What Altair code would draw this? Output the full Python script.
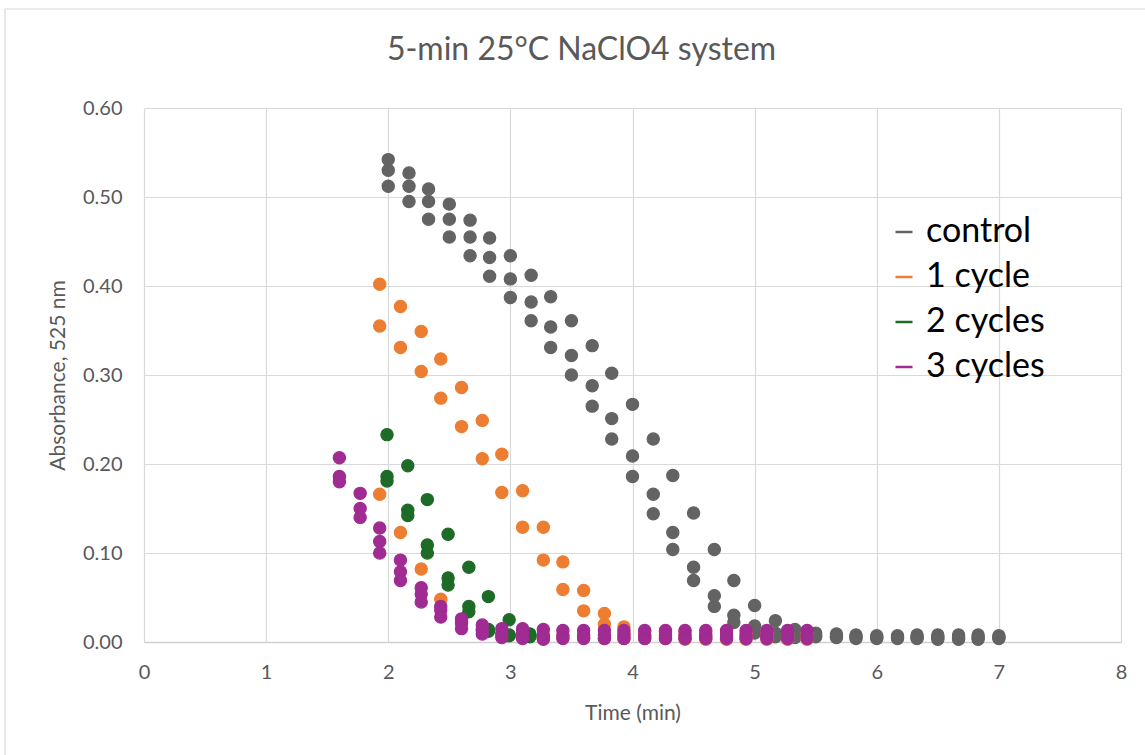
import altair as alt
import pandas as pd

FONT = "Lato"

series_names = ["control", "1 cycle", "2 cycles", "3 cycles"]
series_colors = ["#636363", "#ED7D31", "#1D6B27", "#A02B93"]

# control
ctrl_t = [2.00, 2.17, 2.33, 2.50, 2.67, 2.83, 3.00, 3.17, 3.33, 3.50, 3.67, 3.83, 4.00, 4.17, 4.33, 4.50,
          4.67, 4.83, 5.00, 5.17, 5.33, 5.50, 5.67, 5.83, 6.00, 6.17, 6.33, 6.50, 6.67, 6.83, 7.00]
ctrl_a = [0.542, 0.527, 0.509, 0.492, 0.474, 0.454, 0.434, 0.412, 0.388, 0.361, 0.333, 0.302, 0.267, 0.228,
          0.187, 0.145, 0.104, 0.069, 0.041, 0.024, 0.014, 0.010, 0.009, 0.008, 0.007, 0.007, 0.008, 0.008,
          0.008, 0.008, 0.007]
ctrl_b = [0.530, 0.512, 0.495, 0.475, 0.455, 0.432, 0.408, 0.382, 0.354, 0.322, 0.288, 0.251, 0.209, 0.166,
          0.123, 0.084, 0.052, 0.030, 0.018, 0.010, 0.008, 0.007, 0.006, 0.006, 0.005, 0.005, 0.005, 0.005,
          0.005, 0.005, 0.005]
ctrl_c = [0.512, 0.495, 0.475, 0.455, 0.434, 0.411, 0.387, 0.361, 0.331, 0.300, 0.265, 0.228, 0.186, 0.144,
          0.104, 0.069, 0.040, 0.022, 0.010, 0.006, 0.005, 0.006, 0.005, 0.004, 0.004, 0.004, 0.004, 0.003,
          0.003, 0.003, 0.004]

# 1 cycle
one_t = [1.93, 2.10, 2.27, 2.43, 2.60, 2.77, 2.93, 3.10, 3.27, 3.43, 3.60, 3.77, 3.93, 4.10, 4.27, 4.43,
         4.60, 4.77, 4.93, 5.10, 5.27, 5.43]
one_a = [0.402, 0.377, 0.349, 0.318, 0.286, 0.249, 0.211, 0.170, 0.129, 0.090, 0.058, 0.032, 0.017, 0.012,
         0.011, 0.011, 0.010, 0.010, 0.010, 0.010, 0.010, 0.010]
one_b = [0.355, 0.331, 0.304, 0.274, 0.242, 0.206, 0.168, 0.129, 0.092, 0.059, 0.035, 0.020, 0.010, 0.007,
         0.006, 0.006, 0.006, 0.006, 0.006, 0.006, 0.006, 0.006]
one_c = [0.166, 0.123, 0.082, 0.048, 0.025, 0.015, 0.008, 0.006, 0.005, 0.005, 0.005, 0.004, 0.004, 0.004,
         0.004, 0.003, 0.003, 0.003, 0.003, 0.003, 0.003, 0.003]

# 2 cycles
two_t = [1.99, 2.16, 2.32, 2.49, 2.66, 2.82, 2.99, 3.16]
two_a = [0.233, 0.198, 0.160, 0.121, 0.084, 0.051, 0.025, 0.009]
two_b = [0.186, 0.148, 0.109, 0.072, 0.040, 0.014, 0.008, 0.007]
two_c = [0.181, 0.142, 0.100, 0.064, 0.034, 0.012, 0.007, 0.006]

# 3 cycles
three_t = [1.60, 1.77, 1.93, 2.10, 2.27, 2.43, 2.60, 2.77, 2.93, 3.10, 3.27, 3.43, 3.60, 3.77, 3.93, 4.10,
           4.27, 4.43, 4.60, 4.77, 4.93, 5.10, 5.27, 5.43]
three_a = [0.207, 0.167, 0.128, 0.092, 0.061, 0.040, 0.026, 0.019, 0.015, 0.015, 0.014, 0.013, 0.013, 0.013,
           0.013, 0.013, 0.013, 0.013, 0.013, 0.013, 0.013, 0.013, 0.013, 0.013]
three_b = [0.186, 0.150, 0.113, 0.079, 0.054, 0.036, 0.021, 0.013, 0.010, 0.010, 0.008, 0.008, 0.008, 0.008,
           0.008, 0.008, 0.008, 0.008, 0.008, 0.008, 0.008, 0.008, 0.008, 0.008]
three_c = [0.180, 0.140, 0.100, 0.069, 0.045, 0.028, 0.015, 0.009, 0.005, 0.004, 0.003, 0.004, 0.004, 0.004,
           0.004, 0.004, 0.004, 0.004, 0.004, 0.004, 0.004, 0.004, 0.004, 0.004]

x_ticks = [0, 1, 2, 3, 4, 5, 6, 7, 8]
y_ticks = [0.0, 0.1, 0.2, 0.3, 0.4, 0.5, 0.6]

rows = []
order = 0
for name, t, reps in [
    ("control", ctrl_t, [ctrl_a, ctrl_b, ctrl_c]),
    ("1 cycle", one_t, [one_a, one_b, one_c]),
    ("2 cycles", two_t, [two_a, two_b, two_c]),
    ("3 cycles", three_t, [three_a, three_b, three_c]),
]:
    for rep in reps:
        for ti, v in zip(t, rep):
            rows.append({"series": name, "time": ti, "abs": v, "ord": order})
            order += 1
df = pd.DataFrame(rows)

W, H = 977, 534
PL, PT = 144, 108

color_scale = alt.Scale(domain=series_names, range=series_colors)

points = alt.Chart(df).mark_point(filled=False, size=150, strokeWidth=1.2, opacity=1).encode(
    x=alt.X("time:Q", scale=alt.Scale(domain=[0, 8], nice=False),
            axis=alt.Axis(values=x_ticks, format="d", title="Time (min)", grid=True,
                          labelPadding=20, titlePadding=20, labelFlush=False)),
    y=alt.Y("abs:Q", scale=alt.Scale(domain=[0, 0.6], nice=False),
            axis=alt.Axis(values=y_ticks, format=".2f", title="Absorbance, 525 nm", grid=True,
                          labelPadding=22, titlePadding=14, domain=False)),
    color=alt.Color("series:N", scale=color_scale, sort=series_names,
                    legend=alt.Legend(title=None, orient="none", legendX=743, legendY=107,
                                      symbolType="stroke", symbolSize=290, symbolStrokeWidth=2.5,
                                      labelFontSize=34, labelFont=FONT, labelColor="#000000",
                                      labelOffset=5, rowPadding=11)),
    fill=alt.Fill("series:N", scale=color_scale, legend=None),
    order=alt.Order("ord:Q"),
)

frame_df = pd.DataFrame({"k": [0]})
frame = alt.Chart(frame_df).mark_rect(fill=None, stroke="#D9D9D9", strokeWidth=1.2).encode(
    x=alt.value(5 - PL), x2=alt.value(1150 - PL), y=alt.value(9 - PT), y2=alt.value(760 - PT)
)

chart = alt.layer(frame, points).properties(
    width=W, height=H,
    title=alt.Title("5-min 25°C NaClO4 system", fontSize=32, font=FONT, color="#595959",
                    fontWeight="normal", anchor="middle", frame="group", dx=-51, dy=84,
                    offset=0, baseline="alphabetic"),
    padding={"left": PL, "top": PT, "right": 1145 - PL - W, "bottom": 755 - PT - H},
    autosize=alt.AutoSizeParams(type="none"),
).configure_view(stroke=None).configure_axis(
    gridColor="#D9D9D9", gridWidth=1.2, domainColor="#D0D0D0", domainWidth=1.5, ticks=False,
    labelFont=FONT, labelFontSize=20, labelColor="#595959",
    titleFont=FONT, titleFontSize=21, titleColor="#595959", titleFontWeight="normal",
)

chart.save("out.html", embed_options={"renderer": "svg", "actions": False})
